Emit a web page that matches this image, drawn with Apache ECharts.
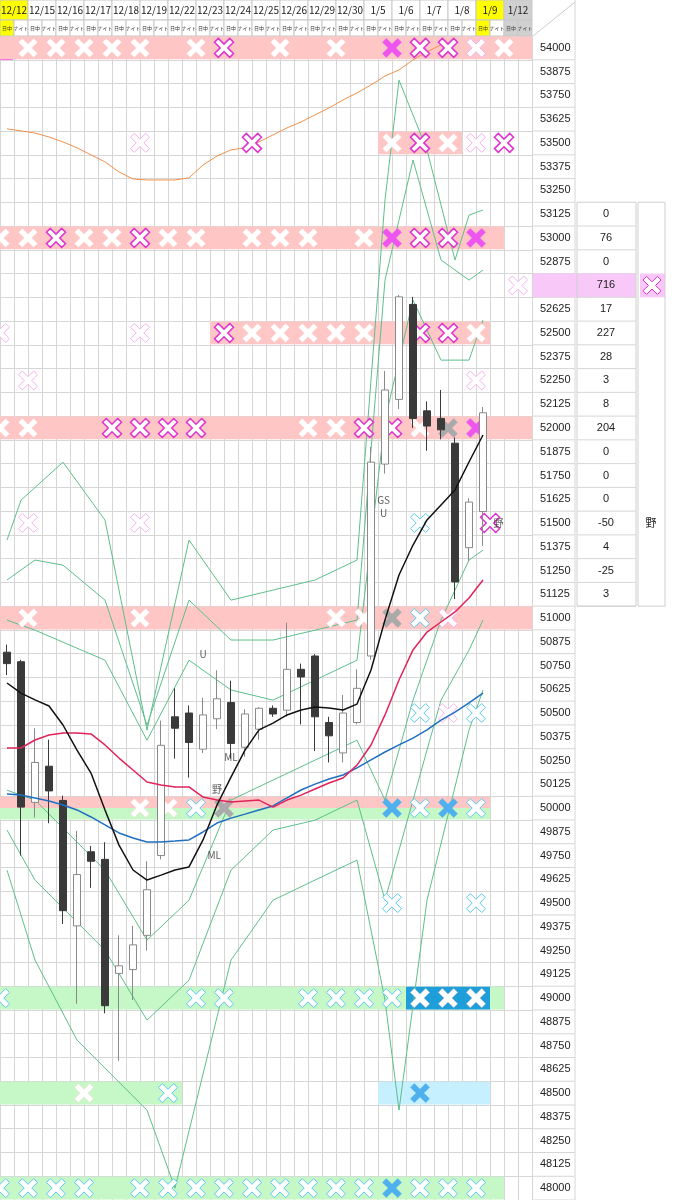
<!DOCTYPE html>
<html><head><meta charset="utf-8">
<script src="https://cdn.jsdelivr.net/npm/echarts@6/dist/echarts.min.js"></script>
<style>html,body{margin:0;padding:0;background:#fff}#c{width:674px;height:1200px}</style>
</head><body><div id="c"></div>
<script>
const dates=['12/12','12/15','12/16','12/17','12/18','12/19','12/22','12/23','12/24','12/25','12/26','12/29','12/30','1/5','1/6','1/7','1/8','1/9','1/12'];
const sessions=['日中','ナイト'];
const priceLabels=[];for(let v=54000;v>=48000;v-=125)priceLabels.push(v);
// [open, close, low, high]
const candles=[[50820,50760,50700,50860],[50770,50005,49750,50780],[50030,50240,49950,50420],[50220,50090,49920,50360],[50040,49460,49390,50065],[49380,49650,48970,49880],[49770,49720,49580,49800],[49730,48960,48920,49820],[49130,49170,48670,49330],[49150,49280,48990,49380],[49330,49570,49250,49720],[49750,50330,49730,50460],[50480,50420,50260,50630],[50500,50345,50160,50540],[50310,50490,50290,50580],[50470,50575,50415,50725],[50555,50340,50260,50670],[50320,50495,50270,50520],[50415,50525,50360,50530],[50525,50495,50480,50540],[50515,50730,50480,50975],[50730,50690,50440,50760],[50800,50480,50300,50810],[50450,50380,50240,50480],[50290,50500,50240,50595],[50450,50630,50440,50730],[50800,51820,50780,51900],[51810,52200,51760,52300],[52150,52690,52100,52700],[52650,52050,52000,52690],[52090,52010,51880,52140],[52050,51990,51940,52200],[51920,51190,51100,51950],[51370,51610,51300,51630],[51560,52080,51380,52110],'-','-','-'];
const maBlack=[50658,50605,50569,50537,50437,50305,50184,49990,49805,49674,49621,49647,49674,49690,49832,50016,50163,50305,50411,50447,50490,50516,50532,50526,50516,50547,50726,50990,51226,51384,51516,51595,51674,51821,51963];
const maRed=[50316,50316,50358,50384,50395,50395,50390,50332,50263,50200,50137,50121,50111,50111,50058,50042,50032,50037,50042,50005,50042,50068,50100,50132,50158,50226,50332,50490,50674,50832,50926,50979,51032,51105,51200];
const maBlue=[50074,50069,50053,50037,50016,49990,49953,49911,49869,49842,49821,49821,49826,49832,49874,49921,49947,49968,49990,50011,50053,50095,50126,50153,50174,50211,50253,50295,50332,50368,50411,50463,50505,50553,50605];
const maOrange=[53574,53563,53552,53531,53505,53474,53437,53400,53347,53310,53305,53305,53305,53316,53384,53431,53463,53474,53505,53542,53579,53610,53647,53684,53726,53763,53805,53852,53884,53937,53979,54016];
const bandU3=[[0,51410],[1,51620],[4,51820],[7,51515],[10,50410],[13,51410],[16,51094],[19,51147],[22,51200],[25,51305],[27,53200],[28,53830],[30,53463],[32,52884],[33,53120],[34,53147]];
const bandU2=[[0,51200],[2,51305],[4,51278],[7,51094],[10,50436],[13,51094],[16,50884],[19,50884],[22,50936],[25,50989],[27,52778],[29,53410],[31,52884],[33,52778],[34,52831]];
const bandU1=[[0,50989],[2,50936],[7,50778],[10,50357],[13,50778],[16,50621],[19,50568],[22,50673],[25,50778],[27,52042],[29,52673],[31,52357],[33,52357],[34,52568]];
const bandL1=[[0,50094],[2,50042],[7,49673],[10,49305],[13,49515],[16,50042],[19,50147],[22,50252],[25,50357],[27,50042],[29,50568],[31,50989],[33,51305],[34,51357]];
const bandL2=[[0,49884],[2,49621],[7,49252],[10,48884],[13,49094],[16,49673],[19,49884],[22,49936],[25,50042],[27,49515],[29,50042],[31,50568],[33,50831],[34,50989]];
const bandL3=[[0,49673],[2,49200],[5,48779],[10,48410],[12,48000],[16,49200],[19,49515],[22,49621],[25,49726],[27,48989],[28,48410],[30,49515],[33,50410],[34,50621]];
// bands: [price, fromCol, toCol, colour]
const bands=[[54000,0,38,'#ffc6c6'],[53500,27,33,'#ffc6c6'],[53000,0,36,'#ffc6c6'],[52500,15,35,'#ffc6c6'],[52000,0,38,'#ffc6c6'],[51000,0,38,'#ffc6c6'],[50000,0,35,'#ffc6c6','top'],[50000,0,35,'#c6f7c6','bottom'],[49000,0,36,'#c6f7c6'],[49000,29,35,'#1e9fdc'],[48500,0,13,'#c6f7c6'],[48500,27,35,'#c6f0ff'],[48000,0,36,'#c6f7c6']];
// crosses: [colPos, price]
const crossW=[[2,54000],[4,54000],[6,54000],[8,54000],[10,54000],[14,54000],[20,54000],[24,54000],[36,54000],[28,53500],[32,53500],[0,53000],[2,53000],[6,53000],[8,53000],[12,53000],[14,53000],[18,53000],[20,53000],[22,53000],[26,53000],[18,52500],[20,52500],[22,52500],[24,52500],[26,52500],[34,52500],[0,52000],[2,52000],[22,52000],[24,52000],[30,52000],[2,51000],[10,51000],[24,51000],[26,51000],[10,50000],[12,50000],[30,49000],[32,49000],[34,49000],[6,48500]];
const crossM=[[16,54000],[30,54000],[32,54000],[30,53500],[36,53500],[18,53500],[4,53000],[10,53000],[30,53000],[32,53000],[16,52500],[30,52500],[32,52500],[8,52000],[10,52000],[12,52000],[14,52000],[26,52000],[28,52000],[35,51500]];
const crossF=[[28,54000],[28,53000],[34,53000],[34,52000]];
const crossL=[[34,54000],[34,53500],[10,53500],[37,52750],[0,52500],[10,52500],[2,52250],[34,52250],[2,51500],[10,51500],[32,51000],[32,50500]];
const crossC=[[30,51500],[30,51000],[30,50500],[34,50500],[14,50000],[30,50000],[34,50000],[28,49500],[34,49500],[0,49000],[14,49000],[16,49000],[22,49000],[24,49000],[26,49000],[28,49000],[12,48500],[0,48000],[2,48000],[4,48000],[6,48000],[10,48000],[12,48000],[14,48000],[16,48000],[18,48000],[20,48000],[22,48000],[24,48000],[26,48000],[30,48000],[32,48000],[34,48000]];
const crossB=[[28,50000],[32,50000],[30,48500],[28,48000]];
const crossG=[[32,52000],[28,51000],[16,50000]];
const tableLevels=[53125,53000,52875,52750,52625,52500,52375,52250,52125,52000,51875,51750,51625,51500,51375,51250,51125];
const tableVals=[0,76,0,716,17,227,28,3,8,204,0,0,0,-50,4,-25,3];
const notes=[[14.5,50810,'U'],[16.5,50270,'ML'],[15.5,50100,'野'],[15.3,49750,'ML'],[27.4,51620,'GS'],[27.4,51550,'U'],[35.6,51500,'野']];

const X='path://M2,0 L5,3 L8,0 L10,2 L7,5 L10,8 L8,10 L5,7 L2,10 L0,8 L3,5 L0,2Z';
const cats=[];for(let i=0;i<38;i++)cats.push(String(i));
function crossSeries(d,fill,border,bw){return{type:'scatter',xAxisIndex:1,data:d.map(p=>[p[0],p[1]]),symbol:X,symbolSize:19,itemStyle:{color:fill,borderColor:border,borderWidth:bw,opacity:1},z:4,silent:true};}
function band(d){return{type:'line',data:d,smooth:false,symbol:'none',lineStyle:{color:'#5cbf8a',width:1},z:3,silent:true};}
const markData=bands.map(b=>{let lo=b[0]-60,hi=b[0]+60;if(b[4]==='top')lo=b[0];if(b[4]==='bottom'){hi=b[0];lo=b[0]-60;}return[{xAxis:b[1],yAxis:lo,itemStyle:{color:b[3]}},{xAxis:b[2],yAxis:hi}];});

const chart=echarts.init(document.getElementById('c'),null,{renderer:'canvas'});
chart.setOption({
 animation:false,
 grid:{left:0,top:36,width:532,height:1164},
 xAxis:[{type:'category',data:cats,boundaryGap:true,show:false},
  {type:'value',min:0,max:38,interval:1,axisLabel:{show:false},axisTick:{show:false},axisLine:{show:false},splitLine:{show:true,lineStyle:{color:'#d6d6d6',width:1}}}],
 yAxis:{type:'value',min:47937.5,max:54062.5,interval:125,axisLabel:{show:false},axisTick:{show:false},axisLine:{show:false},splitLine:{lineStyle:{color:'#d6d6d6',width:1}}},
 series:[
  {type:'line',xAxisIndex:1,data:[],markArea:{silent:true,data:markData},z:1},
  band(bandU3),band(bandU2),band(bandU1),band(bandL1),band(bandL2),band(bandL3),
  {type:'line',data:maOrange,symbol:'none',lineStyle:{color:'#f0904a',width:1},z:3},
  {type:'candlestick',data:candles,barWidth:8,itemStyle:{color:'#ffffff',borderColor:'#8a8a8a',color0:'#3a3a3a',borderColor0:'#3a3a3a',borderWidth:1},z:5},
  {type:'line',data:maBlue,symbol:'none',lineStyle:{color:'#1f6fc0',width:1.5},z:6},
  {type:'line',data:maRed,symbol:'none',lineStyle:{color:'#e0245a',width:1.5},z:6},
  {type:'line',data:maBlack,symbol:'none',lineStyle:{color:'#111',width:1.5},z:6},
  crossSeries(crossW,'#ffffff','#ffd0d0',0.5),
  crossSeries(crossM,'#ffffff','#e030d0',1.5),
  crossSeries(crossF,'#ee55ee','#ee55ee',0.5),
  crossSeries(crossL,'#ffffff','#f4b0ec',1),
  crossSeries(crossC,'#ffffff','#5cc8ee',1),
  crossSeries(crossB,'#4fb0ee','#4fb0ee',0.5),
  crossSeries(crossG,'#aaaaaa','#aaaaaa',0.5),
  {type:'scatter',xAxisIndex:1,data:notes.map(n=>[n[0],n[1]]),symbolSize:0,z:7,label:{show:true,position:'inside',fontSize:10,color:'#333',fontFamily:'Noto Sans CJK JP',formatter:p=>notes[p.dataIndex][2]}}
 ]
});
const g=[];
const px=(c,v)=>chart.convertToPixel({xAxisIndex:1,yAxisIndex:0},[c,v]);
for(let j=0;j<dates.length;j++){
 const x0=px(2*j,0)[0],x1=px(2*j+2,0)[0];
 const bg=j===0||j===17?'#ffff00':(j===18?'#d0d0d0':'#ffffff');
 g.push({type:'rect',shape:{x:x0,y:0,width:x1-x0,height:20},style:{fill:bg,stroke:'#c8c8c8',lineWidth:1}});
 g.push({type:'text',x:(x0+x1)/2,y:10,style:{text:dates[j],fontSize:10,fontFamily:'Noto Sans CJK JP',fill:'#222',align:'center',verticalAlign:'middle'}});
 for(let s=0;s<2;s++){
  const a=px(2*j+s,0)[0],b=px(2*j+s+1,0)[0];
  let sb='#ffffff';if(j===0&&s===0)sb='#ffff00';if(j===17&&s===0)sb='#ffff00';if(j===18)sb='#d0d0d0';
  g.push({type:'rect',shape:{x:a,y:20,width:b-a,height:16},style:{fill:sb,stroke:'#c8c8c8',lineWidth:1}});
  g.push({type:'text',x:(a+b)/2,y:28,style:{text:sessions[s],fontSize:5,fontFamily:'Noto Sans CJK JP',fill:'#333',align:'center',verticalAlign:'middle'}});
 }
}
g.push({type:'line',shape:{x1:533,y1:36,x2:575,y2:2},style:{stroke:'#ccc'}});
g.push({type:'rect',shape:{x:0,y:37,width:13,height:23},style:{fill:'#ff55ee'}});
const colL=533,colR=575;
for(const v of priceLabels){
 const y=px(0,v)[1];
 g.push({type:'line',shape:{x1:colL,y1:y+11.9,x2:colR,y2:y+11.9},style:{stroke:'#d6d6d6'}});
 g.push({type:'text',x:540,y:y,style:{text:String(v),fontSize:11,fontFamily:'Liberation Sans',fill:'#222',verticalAlign:'middle'}});
}
g.push({type:'line',shape:{x1:colR,y1:0,x2:colR,y2:1200},style:{stroke:'#d6d6d6'}});
const tTop=px(0,tableLevels[0])[1]-11.9,tBot=px(0,tableLevels[tableLevels.length-1])[1]+11.9;
for(let k=0;k<tableLevels.length;k++){
 const y=px(0,tableLevels[k])[1];
 if(tableVals[k]===716){
  g.push({type:'rect',shape:{x:533,y:y-11.9,width:103,height:23.8},style:{fill:'#f8c8f8'}});
  g.push({type:'rect',shape:{x:640,y:y-11.9,width:25,height:23.8},style:{fill:'#f8c8f8'}});
 }
 g.push({type:'line',shape:{x1:577,y1:y+11.9,x2:636,y2:y+11.9},style:{stroke:'#d6d6d6'}});
 g.push({type:'text',x:606,y:y,style:{text:String(tableVals[k]),fontSize:11,fontFamily:'Liberation Sans',fill:'#222',align:'center',verticalAlign:'middle'}});
}
g.push({type:'rect',shape:{x:577,y:tTop,width:59,height:tBot-tTop},style:{fill:'none',stroke:'#cfcfcf'}});
g.push({type:'rect',shape:{x:638,y:tTop,width:27,height:tBot-tTop},style:{fill:'none',stroke:'#cfcfcf'}});
g.push({type:'text',x:651,y:px(0,51500)[1],style:{text:'野',fontSize:11,fontFamily:'Noto Sans CJK JP',fill:'#222',align:'center',verticalAlign:'middle'}});
const cy=px(0,52750)[1],cx=652,k=1.8;
const pts=[[2,0],[5,3],[8,0],[10,2],[7,5],[10,8],[8,10],[5,7],[2,10],[0,8],[3,5],[0,2]].map(p=>[cx+(p[0]-5)*k,cy+(p[1]-5)*k]);
g.push({type:'polygon',shape:{points:pts},style:{fill:'#fff',stroke:'#e030d0',lineWidth:1}});
chart.setOption({graphic:{elements:g}});
</script></body></html>
